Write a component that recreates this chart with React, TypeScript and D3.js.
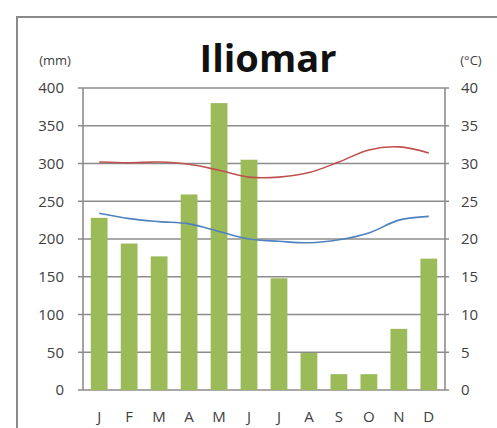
import * as d3 from 'd3';

const months = ['J', 'F', 'M', 'A', 'M', 'J', 'J', 'A', 'S', 'O', 'N', 'D'];
const rainfall = [228, 194, 177, 259, 380, 305, 148, 49, 21, 21, 81, 174];
const maxTemp = [30.2, 30.1, 30.2, 29.9, 29.1, 28.2, 28.2, 28.8, 30.2, 31.8, 32.2, 31.4];
const minTemp = [23.4, 22.7, 22.3, 22.0, 21.0, 20.0, 19.7, 19.5, 19.9, 20.8, 22.5, 23.0];
const rainTicks = [0, 50, 100, 150, 200, 250, 300, 350, 400];
const tempTicks = [0, 5, 10, 15, 20, 25, 30, 35, 40];

const W = 497;
const H = 428;
const margin = { top: 88, right: 52, bottom: 38, left: 83 };
const font = '"Open Sans", "DejaVu Sans", sans-serif';

const App = () => {
  const innerW = W - margin.left - margin.right;
  const innerH = H - margin.top - margin.bottom;

  const x = d3.scaleBand<number>()
    .domain(months.map((_, i) => i))
    .range([0, innerW])
    .paddingInner(0.44)
    .paddingOuter(0.26);
  const yRain = d3.scaleLinear().domain([0, 400]).range([innerH, 0]);
  const yTemp = d3.scaleLinear().domain([0, 40]).range([innerH, 0]);

  const cx = (i: number) => (x(i) ?? 0) + x.bandwidth() / 2;
  const tempLine = d3.line<number>()
    .x((_, i) => cx(i))
    .y(d => yTemp(d))
    .curve(d3.curveCatmullRom.alpha(0.5));

  return (
    <svg width={W} height={H} style={{ position: 'absolute', left: 0, top: 0, background: '#fff' }}>
      {/* chart frame */}
      <rect x={17} y={17} width={W} height={H} fill="#fff" stroke="#8a8a8a" strokeWidth={2} />

      <text x={268} y={72} textAnchor="middle" fontFamily={font} fontWeight="bold" fontSize={38} fill="#111">
        Iliomar
      </text>
      <text x={55} y={65} textAnchor="middle" fontFamily={font} fontSize={13} fill="#404040">(mm)</text>
      <text x={471} y={65} textAnchor="middle" fontFamily={font} fontSize={13} fill="#404040">(°C)</text>

      <g transform={`translate(${margin.left},${margin.top})`}>
        {rainTicks.map(t => (
          <g key={t}>
            <line x1={-5} x2={innerW + 4} y1={yRain(t)} y2={yRain(t)} stroke="#8c8c8c" strokeWidth={1.6} />
            <text x={-19} y={yRain(t)} dy="0.35em" textAnchor="end" fontFamily={font} fontSize={15} fill="#404040">
              {t}
            </text>
          </g>
        ))}
        {tempTicks.map(t => (
          <text key={t} x={innerW + 16} y={yTemp(t)} dy="0.35em" textAnchor="start" fontFamily={font} fontSize={15} fill="#404040">
            {t}
          </text>
        ))}
        <line x1={0} x2={0} y1={0} y2={innerH} stroke="#8c8c8c" strokeWidth={1.6} />
        <line x1={innerW} x2={innerW} y1={0} y2={innerH} stroke="#8c8c8c" strokeWidth={1.6} />

        {rainfall.map((v, i) => (
          <rect key={i} x={x(i)} y={yRain(v)} width={x.bandwidth()} height={innerH - yRain(v)} fill="#9bbb59" />
        ))}

        <path d={tempLine(maxTemp) ?? ''} fill="none" stroke="#c0504d" strokeWidth={1.6} />
        <path d={tempLine(minTemp) ?? ''} fill="none" stroke="#4f81bd" strokeWidth={1.6} />

        {months.map((m, i) => (
          <text key={i} x={cx(i)} y={innerH + 32} textAnchor="middle" fontFamily={font} fontSize={15} fill="#404040">
            {m}
          </text>
        ))}
      </g>
    </svg>
  );
};

export default App;
